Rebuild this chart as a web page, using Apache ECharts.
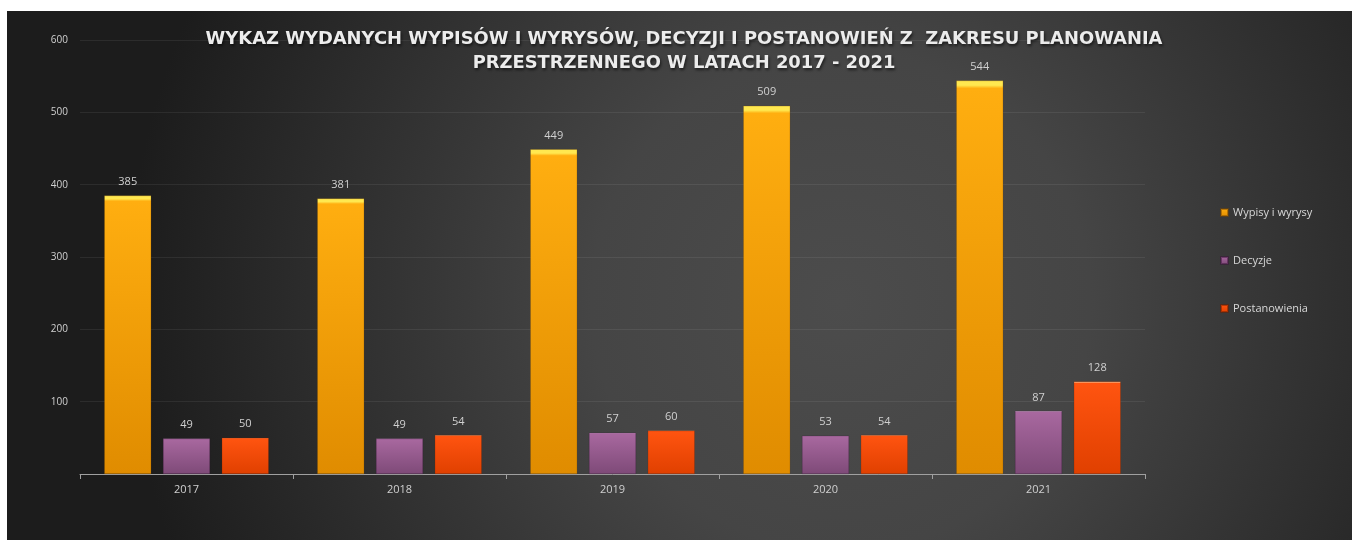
<!DOCTYPE html>
<html><head><meta charset="utf-8">
<script src="https://cdn.jsdelivr.net/npm/echarts@6/dist/echarts.min.js"></script>
<style>html,body{margin:0;padding:0;background:#fff;}#wrap{position:absolute;left:7px;top:11px;width:1345px;height:529px;}#c{width:1345px;height:529px;}</style>
</head><body><div id="wrap"><div id="c"></div></div>
<script>
const years = ['2017','2018','2019','2020','2021'];
const wypisy = [385,381,449,509,544];
const decyzje = [49,49,57,53,87];
const postanowienia = [50,54,60,54,128];
const yTicks = [0,100,200,300,400,500,600];
const seriesNames = ['Wypisy i wyrysy','Decyzje','Postanowienia'];

function grad(top, c1, c2) {
  return new echarts.graphic.LinearGradient(0,0,0,1,[
    {offset:0,color:top},{offset:0.012,color:top},{offset:0.02,color:c1},{offset:1,color:c2}
  ]);
}
const chart = echarts.init(document.getElementById('c'));
const lbl = {show:true,position:'top',distance:8,color:'#d0d0d0',fontSize:11,fontFamily:'Open Sans'};
chart.setOption({
  backgroundColor: new echarts.graphic.RadialGradient(0.62,0.55,1.35,[
    {offset:0,color:'#4c4c4c'},{offset:0.35,color:'#454545'},{offset:1,color:'#1c1c1c'}
  ]),
  animation:false,
  title:{text:'WYKAZ WYDANYCH WYPISÓW I WYRYSÓW, DECYZJI I POSTANOWIEŃ Z  ZAKRESU PLANOWANIA\nPRZESTRZENNEGO W LATACH 2017 - 2021',
    left:672,top:11,textAlign:'center',
    textStyle:{color:'#ececec',fontSize:17.9,fontWeight:'bold',fontFamily:'DejaVu Sans',lineHeight:24,
      textShadowColor:'rgba(0,0,0,0.6)',textShadowBlur:3,textShadowOffsetX:1,textShadowOffsetY:2}},
  legend:{orient:'vertical',left:1208,top:191,itemGap:37,itemWidth:7,itemHeight:7,icon:'rect',
    textStyle:{color:'#d8d8d8',fontSize:11,fontFamily:'Open Sans'},
    data:seriesNames},
  grid:{left:73,right:207,top:29,bottom:66},
  xAxis:{type:'category',data:years,
    axisLine:{lineStyle:{color:'#a0a0a0'}},
    axisTick:{show:true,length:5,lineStyle:{color:'#a0a0a0'}},
    axisLabel:{color:'#d0d0d0',fontSize:11,fontFamily:'Open Sans',margin:10}},
  yAxis:{type:'value',min:0,max:600,interval:100,
    axisLine:{show:false},axisTick:{show:false},
    splitLine:{lineStyle:{color:'rgba(255,255,255,0.07)'}},
    axisLabel:{color:'#d0d0d0',fontSize:10,fontFamily:'Open Sans',margin:12,
      formatter:v=>v===0?'':String(v)}},
  series:[
    {name:seriesNames[0],type:'bar',data:wypisy,barWidth:47,barGap:'25%',label:lbl,
      itemStyle:{color:grad('#ffe850','#ffae10','#e08c00'),borderColor:'rgba(120,70,0,0.5)',borderWidth:0.5}},
    {name:seriesNames[1],type:'bar',data:decyzje,barWidth:47,barGap:'25%',label:lbl,
      itemStyle:{color:grad('#e0a8d8','#a8689f','#7e4a78'),borderColor:'rgba(60,20,60,0.5)',borderWidth:0.5}},
    {name:seriesNames[2],type:'bar',data:postanowienia,barWidth:47,barGap:'25%',label:lbl,
      itemStyle:{color:grad('#ff9a60','#ff5410','#e04000'),borderColor:'rgba(110,30,0,0.5)',borderWidth:0.5}}
  ]
});
</script></body></html>
